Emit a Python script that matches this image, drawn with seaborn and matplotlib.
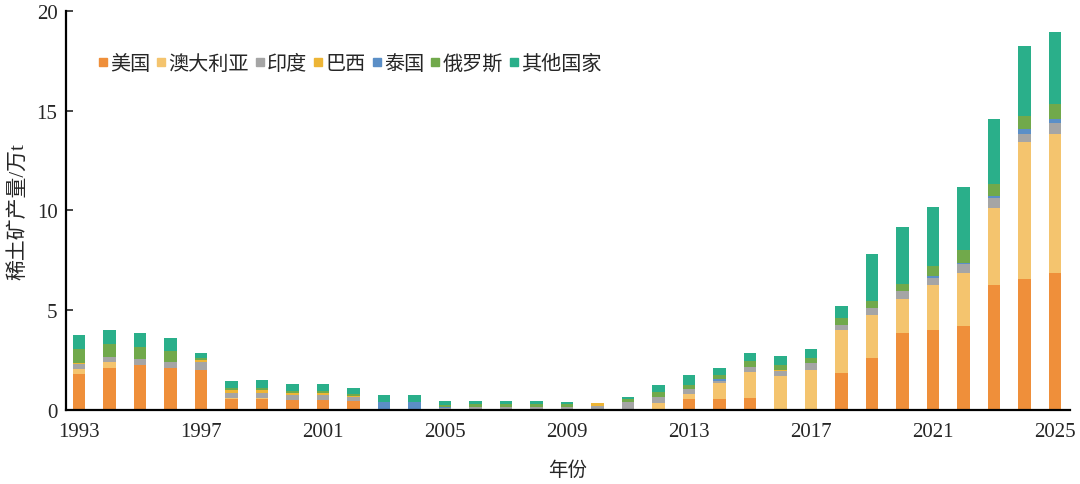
import numpy as np
import pandas as pd
import seaborn as sns
import matplotlib.pyplot as plt
from matplotlib.lines import Line2D

# 数据 (万t), 1993-2025
years = list(range(1993, 2026))
us = [1.8, 2.1, 2.25, 2.1, 2.0, 0.55, 0.55, 0.5, 0.5, 0.45, 0, 0, 0, 0, 0, 0, 0, 0, 0, 0,
      0.55, 0.55, 0.6, 0, 0, 1.85, 2.6, 3.85, 4.0, 4.2, 6.25, 6.55, 6.85]
australia = [0.25, 0.3, 0, 0, 0, 0.05, 0.05, 0, 0, 0, 0, 0, 0, 0, 0, 0, 0, 0, 0.05, 0.35,
             0.25, 0.8, 1.3, 1.7, 2.0, 2.15, 2.15, 1.7, 2.27, 2.65, 3.85, 6.9, 7.0]
india = [0.25, 0.25, 0.3, 0.28, 0.4, 0.25, 0.25, 0.25, 0.25, 0.2, 0.05, 0.05, 0.1, 0.15, 0.15,
         0.15, 0.15, 0.2, 0.35, 0.3, 0.25, 0.08, 0.25, 0.25, 0.37, 0.25, 0.38, 0.42, 0.35,
         0.45, 0.5, 0.4, 0.55]
brazil = [0.05, 0, 0, 0, 0.1, 0.15, 0.15, 0.1, 0.1, 0.05, 0, 0, 0, 0, 0, 0, 0, 0.15, 0, 0,
          0, 0, 0, 0.05, 0, 0, 0, 0, 0, 0, 0, 0, 0]
thailand = [0, 0, 0, 0, 0, 0, 0, 0, 0, 0, 0.35, 0.35, 0.05, 0, 0, 0, 0, 0, 0, 0,
            0, 0.1, 0, 0, 0, 0, 0, 0, 0.07, 0.05, 0.15, 0.25, 0.17]
russia = [0.7, 0.63, 0.58, 0.58, 0.1, 0.1, 0.1, 0.1, 0.1, 0.1, 0, 0, 0.1, 0.15, 0.15, 0.15,
          0.15, 0, 0.15, 0.25, 0.17, 0.2, 0.3, 0.27, 0.22, 0.33, 0.33, 0.33, 0.5, 0.66,
          0.58, 0.66, 0.75]
others = [0.7, 0.7, 0.7, 0.63, 0.27, 0.33, 0.38, 0.35, 0.35, 0.3, 0.35, 0.35, 0.2, 0.12,
          0.12, 0.12, 0.1, 0, 0.1, 0.35, 0.55, 0.37, 0.4, 0.45, 0.45, 0.62, 2.37, 2.88,
          3.0, 3.19, 3.28, 3.49, 3.63]

names = ["美国", "澳大利亚", "印度", "巴西", "泰国", "俄罗斯", "其他国家"]
colors = ["#EF8F3A", "#F4C46E", "#A5A5A5", "#EDB536", "#5B8FC7", "#71A94B", "#2AAF8A"]

tabela = pd.DataFrame({"年份": years, "美国": us, "澳大利亚": australia, "印度": india,
                       "巴西": brazil, "泰国": thailand, "俄罗斯": russia, "其他国家": others})

sns.set_style("ticks")
plt.rcParams["font.family"] = ["Liberation Serif", "Noto Sans CJK SC"]

fig = plt.figure(figsize=(10.8, 4.85), dpi=100)
ax = fig.add_axes([0.061, 0.153, 0.93, 0.822])

# 堆叠柱状图
bottom = np.zeros(len(years))
for name, col in zip(names, colors):
    sns.barplot(x=tabela["年份"], y=tabela[name], bottom=bottom.copy(), color=col,
                width=0.4, saturation=1, errorbar=None, linewidth=0, edgecolor="none", ax=ax)
    bottom += tabela[name].values

ax.set_ylim(0, 20)
ax.set_xlim(-0.43, 32.5)
ax.set_yticks([0, 5, 10, 15, 20])
ax.set_xticks(range(0, 33, 4))
ax.set_xticklabels([str(y) for y in years[::4]])
ax.tick_params(axis="y", direction="in", length=5, width=1.2, labelsize=15, pad=6)
ax.tick_params(axis="x", length=0, labelsize=15, pad=9)
for s in ["top", "right"]:
    ax.spines[s].set_visible(False)
for s in ["left", "bottom"]:
    ax.spines[s].set_linewidth(1.6)
    ax.spines[s].set_color("black")

ax.set_ylabel("稀土矿产量/万t", fontsize=15, labelpad=6)
ax.set_xlabel("年份", fontsize=14, labelpad=14)

handles = [Line2D([], [], marker="s", linestyle="", color=c, markersize=6) for c in colors]
ax.legend(handles, names, loc="center left", bbox_to_anchor=(0.022, 0.867), ncol=7,
          frameon=False, fontsize=14.5, handlelength=0.5, handletextpad=0.1,
          columnspacing=0.3, borderpad=0)

fig.savefig("out.png", dpi=100)
